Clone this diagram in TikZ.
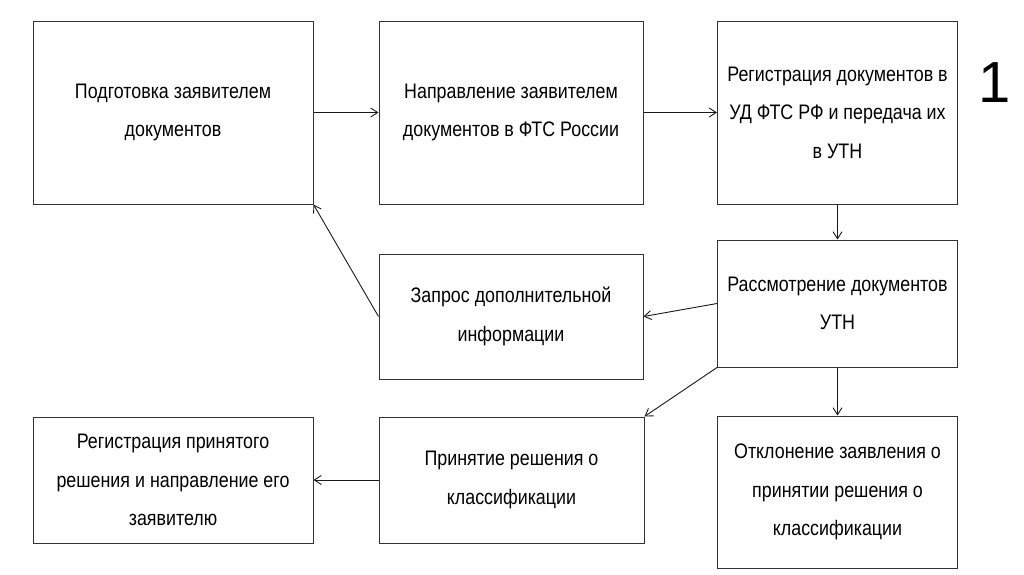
\documentclass[tikz,border=0pt]{standalone}
\usepackage{fontspec}
\setmainfont[FakeStretch=0.85]{Liberation Sans}
\newfontfamily\numfont{Liberation Sans}
\usetikzlibrary{positioning}
\usetikzlibrary{arrows.meta}
\tikzset{>={Straight Barb[length=7pt,width=9pt]}}
\tikzset{
	% boxes of the scheme
	stagebox/.style={draw=black!80,line width=1pt,align=center,inner sep=0pt,
		font=\fontsize{21}{38.5}\selectfont},
	% connectors
	flow/.style={->,line width=0.9pt,draw=black!90},
}

\begin{document}
\begin{tikzpicture}[x=1pt,y=-1pt]
	\useasboundingbox (0,0) rectangle (1024,574);
	
	\node[stagebox,minimum width=280pt,minimum height=183pt] (prep) at (173,112.5) {Подготовка заявителем\\документов};
	\node[stagebox,minimum width=264pt,minimum height=183pt] (send) at (511,112.5) {Направление заявителем\\документов в ФТС России};
	\node[stagebox,minimum width=240pt,minimum height=183pt] (reg) at (837.5,112.5) {Регистрация документов в\\УД ФТС РФ и передача их\\в УТН};
	
	\node[stagebox,minimum width=240pt,minimum height=127pt] (review) at (837.5,303.5) {Рассмотрение документов\\УТН};
	\node[stagebox,minimum width=264pt,minimum height=125pt] (query) at (511,316.5) {Запрос дополнительной\\информации};
	
	\node[stagebox,minimum width=280pt,minimum height=126pt] (record) at (173,480) {Регистрация принятого\\решения и направление его\\заявителю};
	\node[stagebox,minimum width=265pt,minimum height=126pt] (decide) at (511.5,480) {Принятие решения о\\классификации};
	\node[stagebox,minimum width=240pt,minimum height=152pt] (reject) at (837.5,492) {Отклонение заявления о\\принятии решения о\\классификации};
	
	\node[font=\numfont\fontsize{58}{60}\selectfont] (num) at (995,83) {1};
	
	\draw[flow] (prep) -- (send);
	\draw[flow] (send) -- (reg);
	\draw[flow] (reg) -- (review);
	\draw[flow] (review.west) -- (query.east);
	\draw[flow] (query.west) -- (prep.south east);
	\draw[flow] (review) -- (reject);
	\draw[flow] (review.south west) -- (decide.north east);
	\draw[flow] (decide) -- (record);
	
\end{tikzpicture}
\end{document}
